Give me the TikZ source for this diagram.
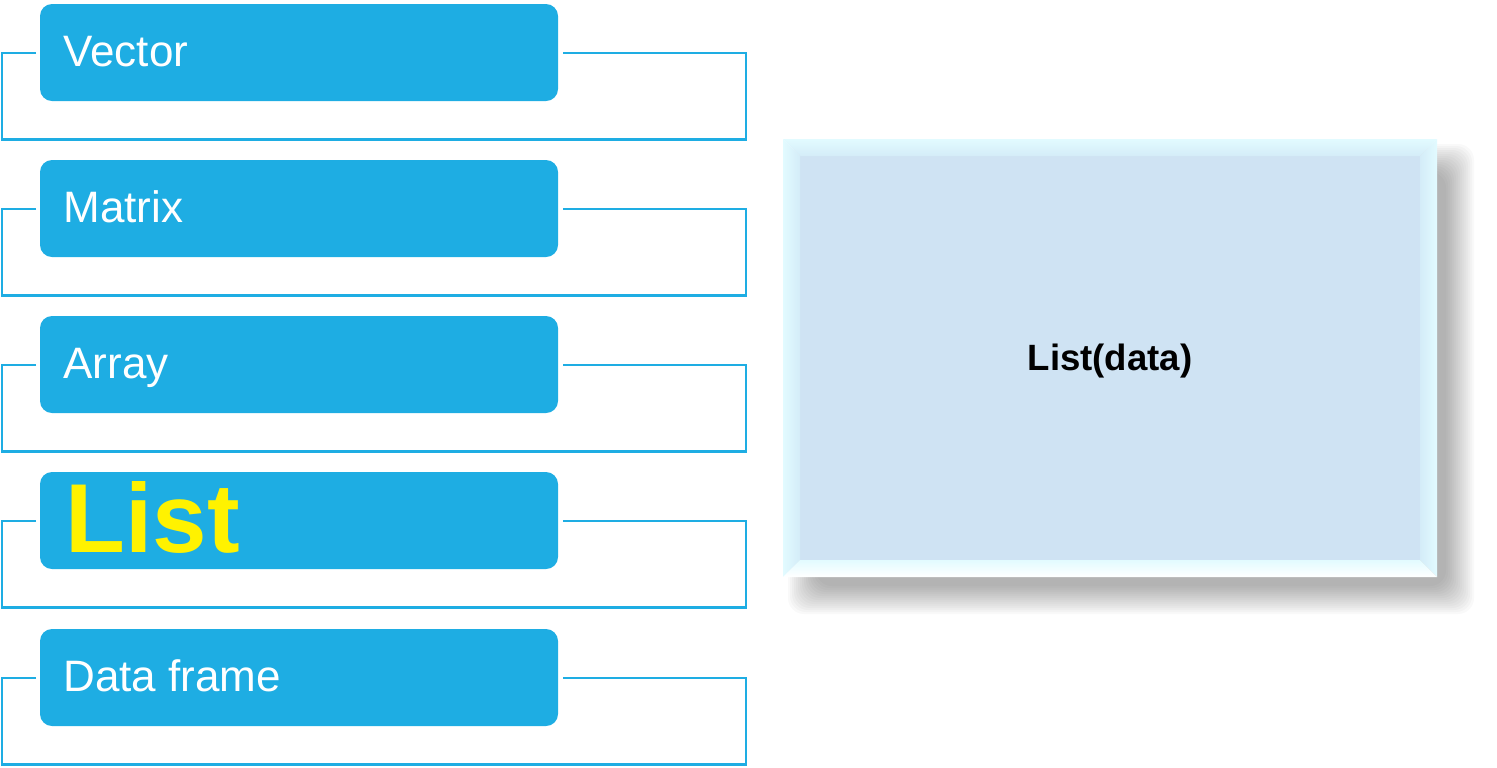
\documentclass[tikz,border=0pt]{standalone}
\usepackage{fontspec}
\setmainfont{Liberation Sans}
\definecolor{boxblue}{HTML}{1EADE3}
\definecolor{face}{HTML}{CFE3F3}
\definecolor{bevA}{HTML}{E2FBFF}
\definecolor{bevB}{HTML}{D4ECF8}
\begin{document}
\begin{tikzpicture}[x=0.5pt,y=-0.5pt,
  tbox/.style={fill=boxblue, draw=none, rounded corners=6pt, minimum width=259pt, minimum height=48.5pt, inner sep=0pt},
  bline/.style={draw=boxblue, line width=1.1pt},
  lbl/.style={text=white, font=\fontsize{22}{26}\selectfont, inner sep=0pt, anchor=base west},
  biglbl/.style={text=yellow, font=\fontsize{49}{56}\selectfont\bfseries, inner sep=0pt, anchor=base west},
  datalbl/.style={text=black, font=\fontsize{18.3}{22}\selectfont\bfseries, inner sep=0pt, anchor=base}]
\useasboundingbox (0,0) rectangle (1497,767);

% frames and boxes
\foreach \t/\nm in {4/b1,160/b2,316/b3,472/b4,629/b5}{
  \pgfmathsetmacro{\ly}{\t+49}
  \pgfmathsetmacro{\by}{\t+135.5}
  \coordinate (\nm l) at (36,\ly);
  \coordinate (\nm r) at (563,\ly);
  \draw[bline] (\nm l) -- (2,\ly) -- (2,\by) -- (746,\by) -- (746,\ly) -- (\nm r);
  \node[tbox] (\nm) at (299,\t+48.5) {};
}
\node[lbl] (t1) at (63,66) {Vector};
\node[lbl] (t2) at (63,222) {Matrix};
\node[lbl] (t3) at (63,378) {Array};
\node[biglbl] (t4) at (65,552) {List};
\node[lbl] (t5) at (63,691) {Data frame};

% shadow of the right panel
\foreach \d in {-14,-12,...,14}{
  \fill[black, opacity=0.023, rounded corners=8pt] (802-\d,158-\d) rectangle (1460+\d,600+\d);
}
% bevelled panel
\fill[face] (800,156) rectangle (1420,560);
\shade[top color=bevA, bottom color=bevB] (783,139) -- (1437,139) -- (1420,156) -- (800,156) -- cycle;
\shade[left color=bevA, right color=bevB] (783,139) -- (800,156) -- (800,560) -- (783,577) -- cycle;
\shade[right color=bevA, left color=bevB] (1437,139) -- (1420,156) -- (1420,560) -- (1437,577) -- cycle;
\shade[bottom color=white, top color=bevA] (783,577) -- (800,560) -- (1420,560) -- (1437,577) -- cycle;
\node[datalbl] (panel) at (1110,370) {List(data)};
\end{tikzpicture}
\end{document}
